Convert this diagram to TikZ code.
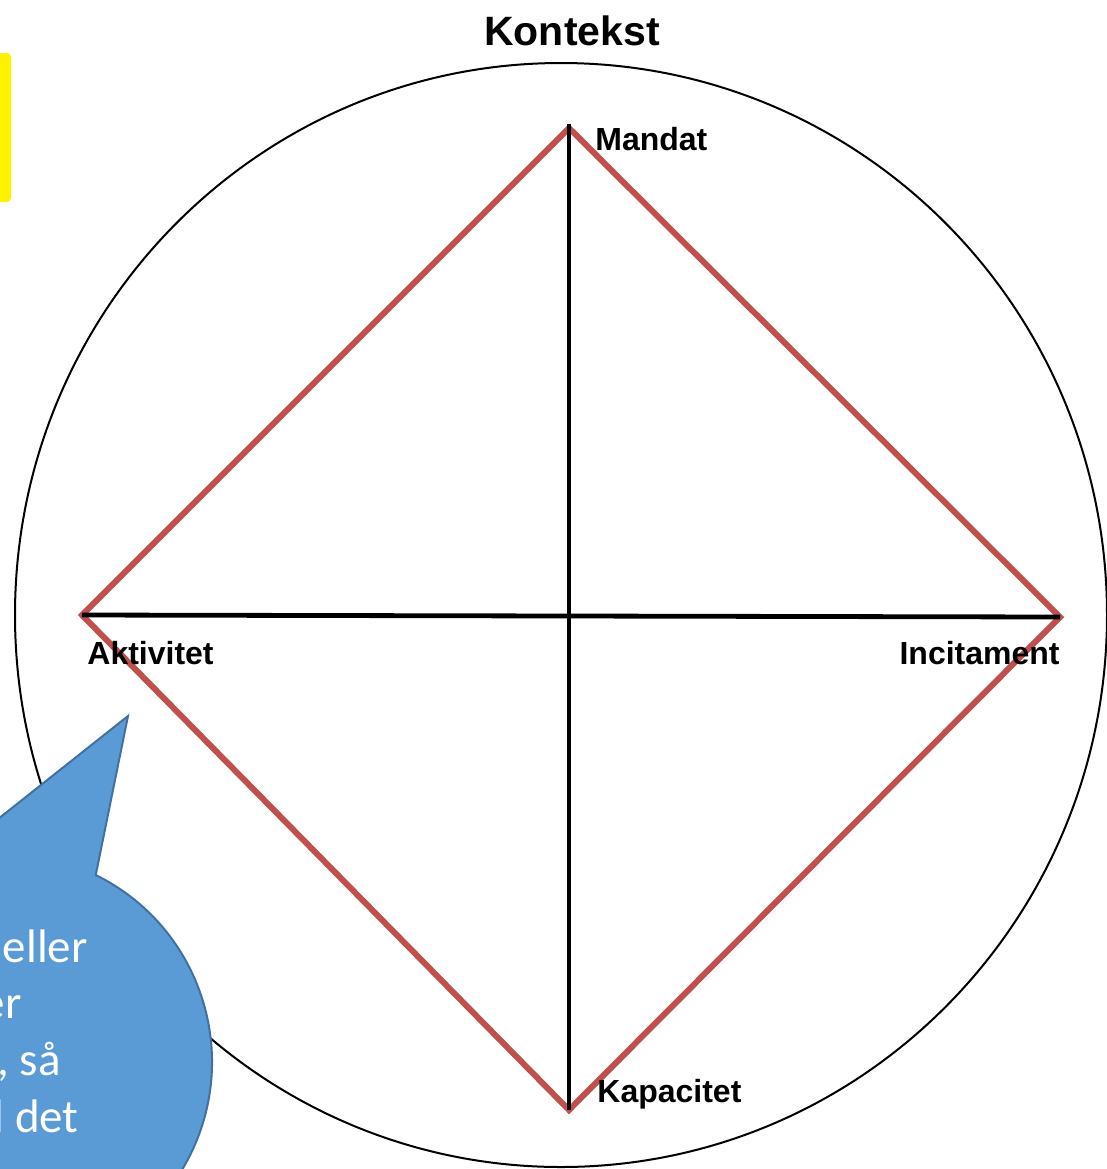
\documentclass[tikz,border=0pt]{standalone}
\usepackage{fontspec}
\setmainfont{Liberation Sans}
\newfontfamily\bubblefont{Carlito}
\usetikzlibrary{positioning}
\definecolor{diamondred}{HTML}{C0504D}
\definecolor{bubbleblue}{HTML}{5B9BD5}
\definecolor{bubbleedge}{HTML}{41719C}

\begin{document}
\begin{tikzpicture}[x=0.5pt, y=-0.5pt,
  pole/.style={font=\bfseries\fontsize{16}{19}\selectfont, inner sep=0pt, anchor=base west},
  axis/.style={line width=2.4pt, black},
  rhomb/.style={line width=3pt, diamondred},
  bubbletext/.style={font=\bubblefont\fontsize{23.5}{28}\selectfont, text=white, inner sep=0pt, anchor=base east}]
\useasboundingbox (0,0) rectangle (1107,1169);

% context circle
\coordinate (C) at (561,615);
\draw [line width=1pt] (C) ellipse [x radius=546, y radius=552];
\node [font=\bfseries\fontsize{20.5}{24}\selectfont, inner sep=0pt, anchor=base] (ctx) at (572,45) {Kontekst};

\coordinate (M) at (569,128);
\coordinate (I) at (1060,617);
\coordinate (K) at (569,1110);
\coordinate (A) at (82,615);
\coordinate (Mtop) at (569,124);

\draw [rhomb] (M) -- (I) -- (K) -- (A) -- cycle;
\draw [axis] (Mtop) -- (K);
\draw [axis] (A) -- (I);

\node [pole] (mandat) at (595,150) {Mandat};
\node [pole] (aktiv) at (87,664) {Aktivitet};
\node [pole, anchor=base east] (incit) at (1060,664) {Incitament};
\node [pole] (kapac) at (597,1102) {Kapacitet};

% yellow note, cut off at the left
\fill [yellow, rounded corners=2pt] (-20,53) rectangle (11,202);

% speech bubble
\coordinate (tip) at (128,716);
\coordinate (bc) at (5,1062);
\draw [fill=bubbleblue, draw=bubbleedge, line width=1pt]
  (tip) -- ([shift={(-64:207 and 208)}]bc)
  arc [start angle=-64, end angle=252, x radius=207, y radius=208] -- cycle;

\node [bubbletext] (b1) at (88,962) {eller};
\node [bubbletext] (b2) at (22,1018) {er};
\node [bubbletext] (b3) at (61,1075) {, så};
\node [bubbletext] (b4) at (79,1132) {l det};

\end{tikzpicture}
\end{document}
